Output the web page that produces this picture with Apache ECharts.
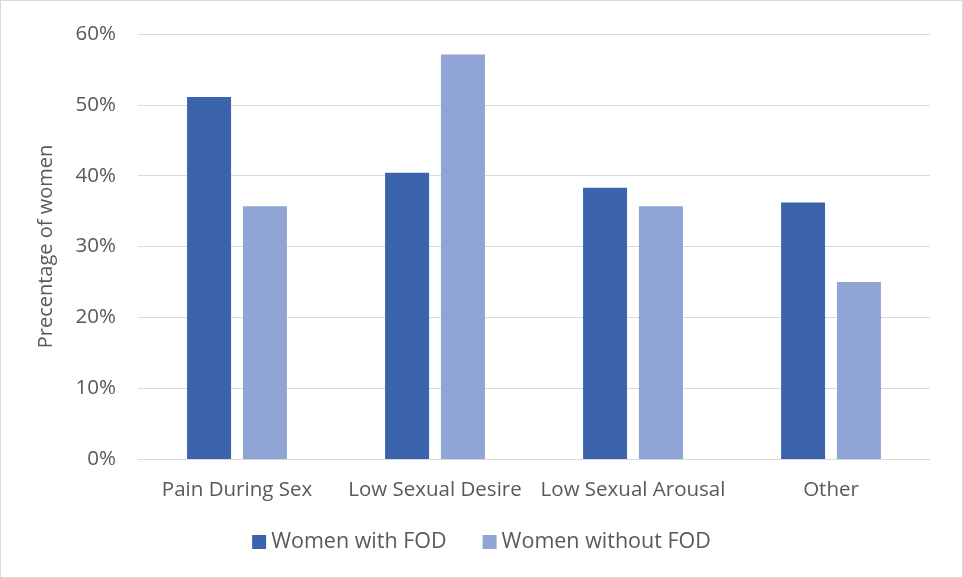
<!DOCTYPE html>
<html>
<head>
<meta charset="utf-8">
<script src="https://cdn.jsdelivr.net/npm/echarts@6/dist/echarts.min.js"></script>
<style>
  html, body { margin: 0; padding: 0; background: #fff; }
  #chart { width: 961px; height: 576px; border: 1px solid #d9d9d9; }
</style>
</head>
<body>
<div id="chart"></div>
<script>
// categories and values (percent)
var categories = ['Pain During Sex', 'Low Sexual Desire', 'Low Sexual Arousal', 'Other'];
var withFOD = [51.1, 40.4, 38.3, 36.2];
var withoutFOD = [35.7, 57.1, 35.7, 25.0];
var seriesNames = ['Women with FOD', 'Women without FOD'];

var textColor = '#595959';
var font = 'Open Sans, Liberation Sans, sans-serif';

var chart = echarts.init(document.getElementById('chart'));
var option = {
  animation: false,
  textStyle: { fontFamily: font },
  grid: { left: 137, right: 32, top: 33, bottom: 118 },
  legend: {
    left: 'center',
    bottom: 19,
    itemWidth: 14,
    itemHeight: 14,
    itemGap: 36,
    icon: 'rect',
    textStyle: { color: textColor, fontSize: 21.5, fontFamily: font },
    data: seriesNames
  },
  xAxis: {
    type: 'category',
    data: categories,
    axisTick: { show: false },
    axisLine: { lineStyle: { color: '#d9d9d9', width: 1 } },
    axisLabel: { color: textColor, fontSize: 20.5, margin: 21, interval: 0, hideOverlap: false }
  },
  yAxis: {
    type: 'value',
    min: 0,
    max: 60,
    interval: 10,
    name: 'Precentage of women',
    nameLocation: 'middle',
    nameGap: 82,
    nameRotate: 90,
    nameTextStyle: { color: textColor, fontSize: 20 },
    axisLine: { show: false },
    axisTick: { show: false },
    axisLabel: { color: textColor, fontSize: 20.5, margin: 22, formatter: '{value}%' },
    splitLine: { lineStyle: { color: '#d9d9d9', width: 1 } }
  },
  series: [
    {
      name: seriesNames[0],
      type: 'bar',
      barWidth: 44,
      barGap: '27%',
      itemStyle: { color: '#3c64ad' },
      data: withFOD
    },
    {
      name: seriesNames[1],
      type: 'bar',
      barWidth: 44,
      barGap: '27%',
      itemStyle: { color: '#90a5d5' },
      data: withoutFOD
    }
  ]
};
chart.setOption(option);
</script>
</body>
</html>
